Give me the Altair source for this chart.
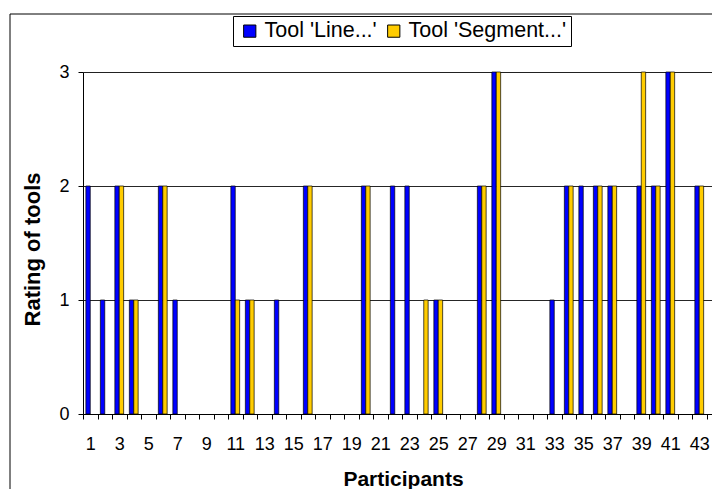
import altair as alt
import pandas as pd

participants = list(range(1, 44))
line_tool = [2, 1, 2, 1, 0, 2, 1, 0, 0, 0,
             2, 1, 0, 1, 0, 2, 0, 0, 0, 2,
             0, 2, 2, 0, 1, 0, 0, 2, 3, 0,
             0, 0, 1, 2, 2, 2, 2, 0, 2, 2,
             3, 0, 2]
segment_tool = [0, 0, 2, 1, 0, 2, 0, 0, 0, 0,
                1, 1, 0, 0, 0, 2, 0, 0, 0, 2,
                0, 0, 0, 1, 1, 0, 0, 2, 3, 0,
                0, 0, 0, 2, 0, 2, 2, 0, 3, 2,
                3, 0, 2]
series_names = ["Tool 'Line...'", "Tool 'Segment...'"]
series_colors = ["#0000FF", "#FFCC00"]
x_domain = list(range(1, 45))
y_ticks = [0, 1, 2, 3]

rows = []
for p, a, b in zip(participants, line_tool, segment_tool):
    rows.append({"Participant": p, "Tool": series_names[0], "Rating": a})
    rows.append({"Participant": p, "Tool": series_names[1], "Rating": b})
df = pd.DataFrame(rows)

FONT = "Liberation Sans"

bars = alt.Chart(df).transform_filter("datum.Rating > 0").mark_bar(
    stroke="black", strokeWidth=0.7
).encode(
    x=alt.X("Participant:O",
            scale=alt.Scale(domain=x_domain, range=[0, 638], paddingInner=0, paddingOuter=0),
            axis=alt.Axis(title="Participants", labelAngle=0, tickBand="extent",
                          labelExpr="datum.value % 2 == 1 ? datum.label : ''",
                          labelFontSize=18, labelFont=FONT, labelColor="black",
                          labelPadding=16, tickSize=5, tickColor="black",
                          domainColor="black", grid=False,
                          titleFont=FONT, titleFontSize=21, titleFontWeight="bold",
                          titleColor="black", titleBaseline="alphabetic",
                          titleX=320, titleY=71)),
    xOffset=alt.XOffset("Tool:N", sort=series_names,
                        scale=alt.Scale(domain=series_names, paddingInner=0, paddingOuter=0.65)),
    y=alt.Y("Rating:Q",
            scale=alt.Scale(domain=[0, 3], nice=False),
            axis=alt.Axis(title="Rating of tools", values=y_ticks, format="d",
                          labelFontSize=18, labelFont=FONT, labelColor="black",
                          labelPadding=9, tickSize=5, tickColor="black",
                          domainColor="black", grid=True, gridColor="black",
                          gridWidth=1, gridOpacity=0.85,
                          titleFont=FONT, titleFontSize=22, titleFontWeight="bold",
                          titleColor="black", titleBaseline="alphabetic",
                          titleX=-44, titleY=177, titleAngle=270)),
    color=alt.Color("Tool:N",
                    scale=alt.Scale(domain=series_names, range=series_colors),
                    legend=alt.Legend(title=None, orient="none", legendX=150, legendY=-56,
                                      direction="horizontal", strokeColor="black",
                                      fillColor="white", padding=4,
                                      symbolType="square", symbolSize=150,
                                      symbolStrokeColor="black", symbolStrokeWidth=1,
                                      symbolOpacity=1, symbolOffset=2,
                                      labelFont=FONT, labelFontSize=21.5, labelColor="black",
                                      labelLimit=400, labelOffset=4, columnPadding=4)),
)

frame_df = pd.DataFrame({"k": [0]})
left_frame = alt.Chart(frame_df).mark_rule(color="black", strokeWidth=1).encode(
    x=alt.value(-73), y=alt.value(-58), y2=alt.value(500))
top_frame = alt.Chart(frame_df).mark_rule(color="black", strokeWidth=1).encode(
    x=alt.value(-73), x2=alt.value(700), y=alt.value(-58))

chart = alt.layer(left_frame, top_frame, bars).properties(
    width=629, height=342,
    autosize=alt.AutoSizeParams(type="none"),
    padding={"left": 75, "top": 64, "right": 0, "bottom": 75},
).configure_view(strokeWidth=0).configure(background="white")

chart.save("out.html", embed_options={"renderer": "svg", "actions": False})
